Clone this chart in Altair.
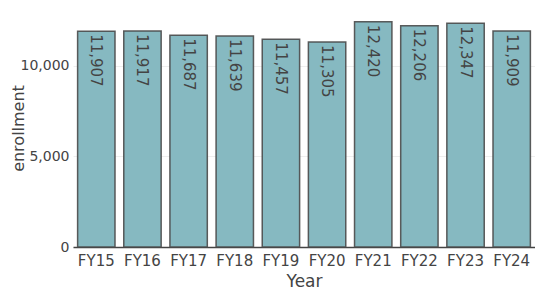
import altair as alt
import pandas as pd

years = ["FY15", "FY16", "FY17", "FY18", "FY19", "FY20", "FY21", "FY22", "FY23", "FY24"]
enrollment = [11907, 11917, 11687, 11639, 11457, 11305, 12420, 12206, 12347, 11909]

df = pd.DataFrame({"Year": years, "enrollment": enrollment})
df["label"] = [f"{v:,}" for v in enrollment]

FONT = "DejaVu Sans"

base = alt.Chart(df).encode(
    x=alt.X("Year:N", sort=years,
            scale=alt.Scale(paddingInner=0.19, paddingOuter=0.1),
            axis=alt.Axis(title="Year", labelAngle=0, ticks=False, domain=True,
                          domainColor="#444", domainWidth=1.5,
                          labelFont=FONT, labelFontSize=15, labelColor="#444",
                          labelPadding=6, titleFont=FONT, titleFontSize=17,
                          titleFontWeight="normal", titleColor="#444",
                          titleBaseline="alphabetic", titleY=39)),
    y=alt.Y("enrollment:Q",
            scale=alt.Scale(domain=[0, 13074], nice=False),
            axis=alt.Axis(title="enrollment", values=[0, 5000, 10000], format=",d",
                          ticks=False, domain=False, grid=True, gridColor="#eeeeee",
                          labelFont=FONT, labelFontSize=14, labelColor="#444",
                          labelPadding=4, titleFont=FONT, titleFontSize=16,
                          titleFontWeight="normal", titleColor="#444",
                          titleBaseline="alphabetic",
                          titleX=-50, titleY=118)),
)

bars = base.mark_bar(
    color="#86b9c1", stroke="#4a4a4a", strokeWidth=1.5, strokeOpacity=0.9
)

text = base.mark_text(
    angle=90, align="left", baseline="middle", dx=3, font=FONT, fontSize=15,
    color="#444"
).encode(text="label:N")

chart = (bars + text).properties(
    width=462, height=237,
    autosize=alt.AutoSizeParams(type="none"),
    padding={"left": 65, "top": 2, "right": 0, "bottom": 44},
).configure_view(stroke=None)

chart.save("out.html", embed_options={"renderer": "svg", "actions": False})
